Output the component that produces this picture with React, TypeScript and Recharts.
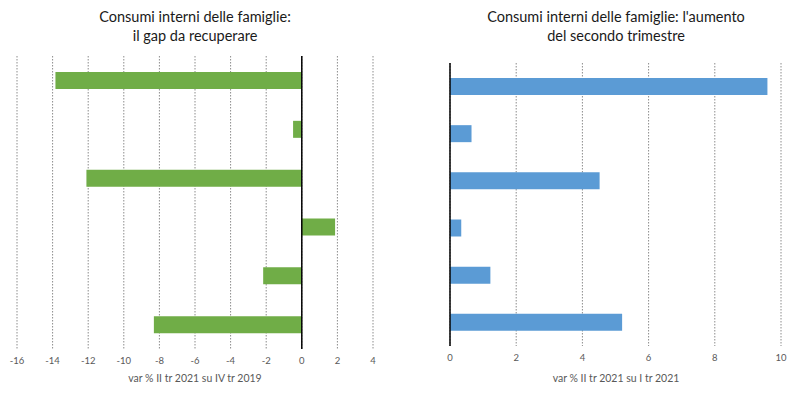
import React from 'react';
import {
  BarChart,
  Bar,
  XAxis,
  YAxis,
  CartesianGrid,
  ReferenceLine,
} from 'recharts';

// Categories are not labelled in the picture, so they are generic
const CATEGORIES = ['c1', 'c2', 'c3', 'c4', 'c5', 'c6'];
const GAP_VALUES = [-13.84, -0.49, -12.1, 1.87, -2.17, -8.31];
const QUARTER_VALUES = [9.59, 0.65, 4.52, 0.34, 1.22, 5.2];
const GAP_TICKS = [-16, -14, -12, -10, -8, -6, -4, -2, 0, 2, 4];
const QUARTER_TICKS = [0, 2, 4, 6, 8, 10];

const FONT = 'Lato, "Open Sans", sans-serif';
const TICK = { fill: '#595959', fontSize: 9.5, fontFamily: FONT };

const gapData = CATEGORIES.map((c, i) => ({ cat: c, value: GAP_VALUES[i] }));
const quarterData = CATEGORIES.map((c, i) => ({ cat: c, value: QUARTER_VALUES[i] }));

const titleStyle: React.CSSProperties = {
  position: 'absolute',
  textAlign: 'center',
  fontFamily: FONT,
  fontSize: 14.5,
  lineHeight: '19px',
  color: '#1a1a1a',
};

const axisTitleStyle: React.CSSProperties = {
  position: 'absolute',
  textAlign: 'center',
  fontFamily: FONT,
  fontSize: 10.5,
  color: '#595959',
};

export default function App() {
  return (
    <div
      style={{
        position: 'absolute',
        left: 0,
        top: 0,
        width: 800,
        height: 399,
        background: '#fff',
      }}
    >
      <div style={{ ...titleStyle, left: 0, width: 390, top: 7 }}>
        Consumi interni delle famiglie:
        <br />
        il gap da recuperare
      </div>
      <div style={{ ...titleStyle, left: 420, width: 392, top: 7 }}>
        Consumi interni delle famiglie: l'aumento
        <br />
        del secondo trimestre
      </div>

      <div style={{ position: 'absolute', left: 0, top: 0 }}>
        <BarChart
          width={400}
          height={399}
          data={gapData}
          layout="vertical"
          margin={{ left: 17, right: 27, top: 56, bottom: 20 }}
        >
          <CartesianGrid
            horizontal={false}
            stroke="#8c8c8c"
            strokeDasharray="1.5 1.5"
          />
          <XAxis
            type="number"
            domain={[-16, 4]}
            ticks={GAP_TICKS}
            axisLine={false}
            tickLine={false}
            tick={TICK}
            height={30}
            interval={0}
          />
          <YAxis type="category" dataKey="cat" hide />
          <ReferenceLine x={0} stroke="#000" strokeWidth={1.5} />
          <Bar dataKey="value" fill="#70AD47" barSize={17} isAnimationActive={false} />
        </BarChart>
      </div>

      <div style={{ position: 'absolute', left: 400, top: 0 }}>
        <BarChart
          width={400}
          height={399}
          data={quarterData}
          layout="vertical"
          margin={{ left: 50, right: 19, top: 63, bottom: 23 }}
        >
          <CartesianGrid
            horizontal={false}
            stroke="#8c8c8c"
            strokeDasharray="1.5 1.5"
          />
          <XAxis
            type="number"
            domain={[0, 10]}
            ticks={QUARTER_TICKS}
            axisLine={false}
            tickLine={false}
            tick={TICK}
            height={30}
            interval={0}
          />
          <YAxis type="category" dataKey="cat" hide />
          <ReferenceLine x={0} stroke="#000" strokeWidth={1.5} />
          <Bar dataKey="value" fill="#5B9BD5" barSize={17} isAnimationActive={false} />
        </BarChart>
      </div>

      <div style={{ ...axisTitleStyle, left: 0, width: 390, top: 372 }}>
        var % II tr 2021 su IV tr 2019
      </div>
      <div style={{ ...axisTitleStyle, left: 420, width: 392, top: 372 }}>
        var % II tr 2021 su I tr 2021
      </div>
    </div>
  );
}
